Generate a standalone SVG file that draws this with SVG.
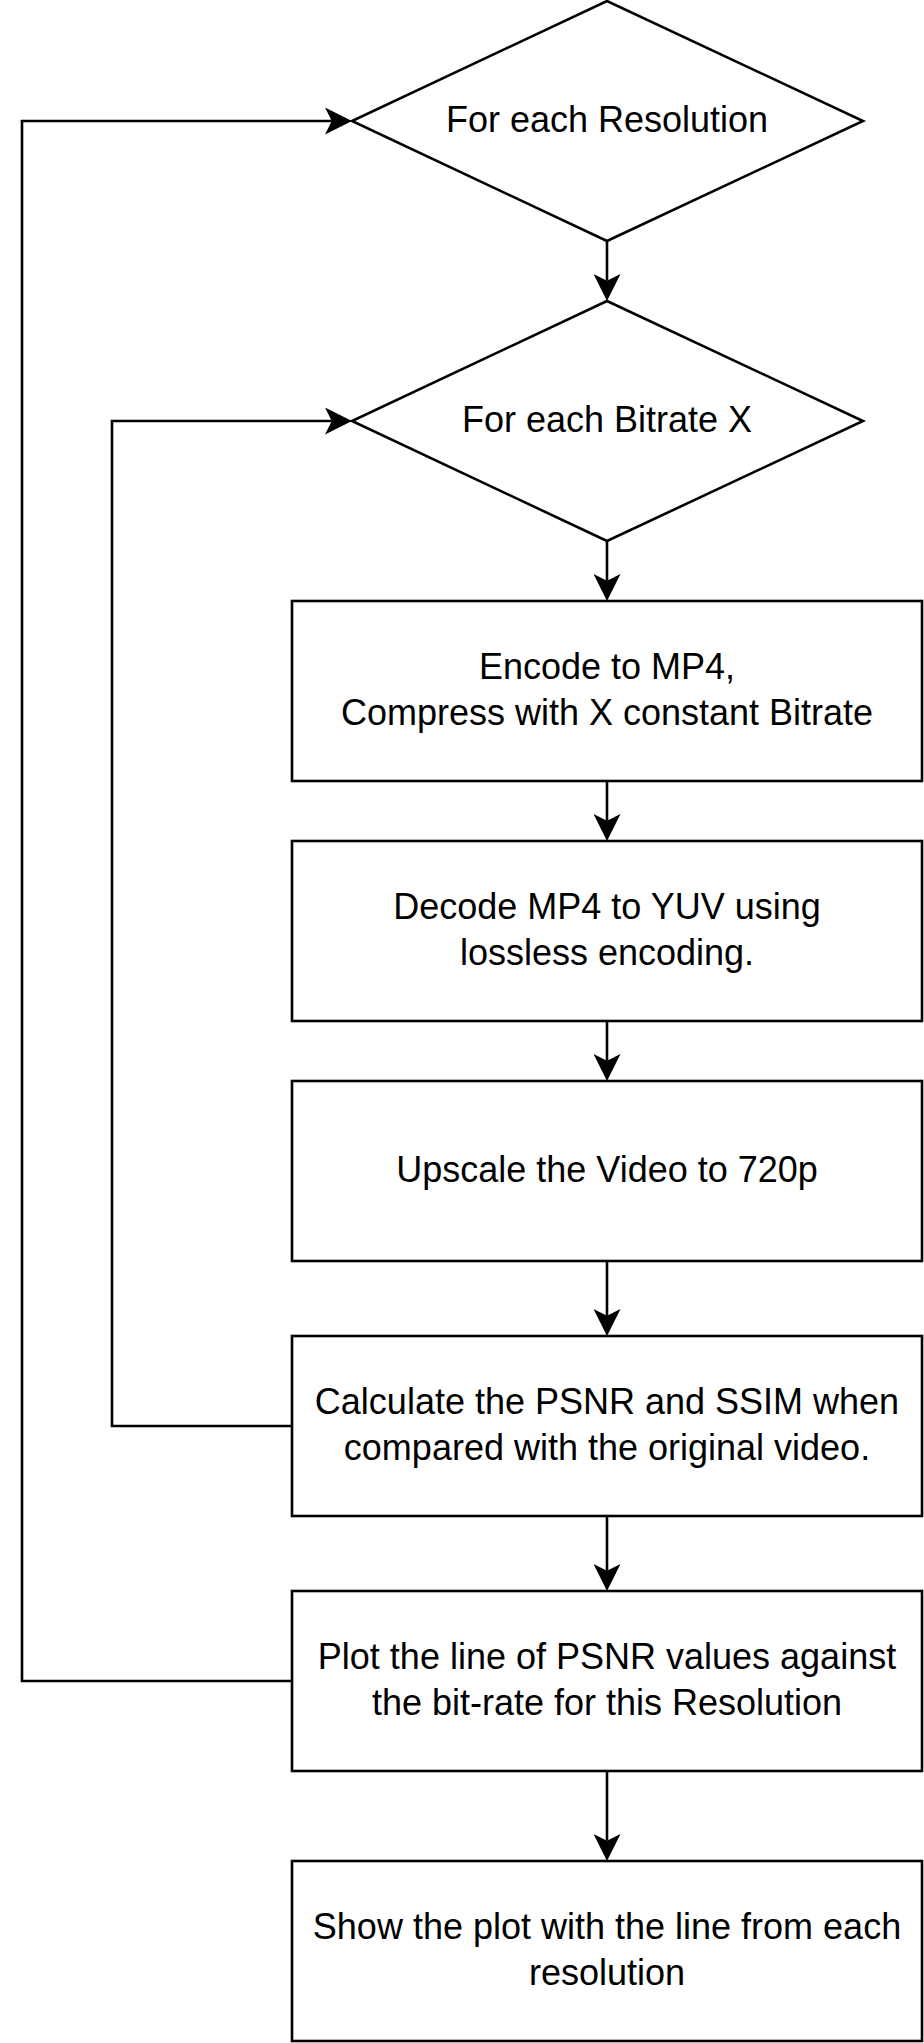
<svg xmlns="http://www.w3.org/2000/svg" width="924" height="2043" viewBox="0 0 924 2043">
<style>
.shape{fill:#ffffff;stroke:#000000;stroke-width:2.6}
.edge{fill:none;stroke:#000000;stroke-width:2.6;marker-end:url(#arrow)}
text{font-family:"Liberation Sans",Arial,sans-serif;font-size:36px;fill:#000000;text-anchor:middle}
</style>
<defs>
<marker id="arrow" markerUnits="userSpaceOnUse" markerWidth="27" markerHeight="27" viewBox="0 0 27 27" refX="6.75" refY="13.5" orient="auto">
<path d="M27,13.5 L0,0 L6.75,13.5 L0,27 Z" fill="#000000"/>
</marker>
</defs>
<rect width="924" height="2043" fill="#ffffff"/>
<g id="connectors">
<path class="edge" d="M607,241 L607,280.75"/>
<path class="edge" d="M607,541 L607,580.75"/>
<path class="edge" d="M607,781 L607,820.75"/>
<path class="edge" d="M607,1021 L607,1060.75"/>
<path class="edge" d="M607,1261 L607,1315.75"/>
<path class="edge" d="M607,1516 L607,1570.75"/>
<path class="edge" d="M607,1771 L607,1840.75"/>
<path class="edge" d="M292,1426 L112,1426 L112,421 L331.75,421"/>
<path class="edge" d="M292,1681 L22,1681 L22,121 L331.75,121"/>
</g>
<g id="resolution">
<path class="shape" d="M607,1 L863,121 L607,241 L352,121 Z"/>
<text x="607" y="132">For each Resolution</text>
</g>
<g id="bitrate">
<path class="shape" d="M607,301 L863,421 L607,541 L352,421 Z"/>
<text x="607" y="432">For each Bitrate X</text>
</g>
<g id="encode">
<rect class="shape" x="292" y="601" width="630" height="180"/>
<text x="607" y="679">Encode to MP4,</text>
<text x="607" y="725">Compress with X constant Bitrate</text>
</g>
<g id="decode">
<rect class="shape" x="292" y="841" width="630" height="180"/>
<text x="607" y="919">Decode MP4 to YUV using</text>
<text x="607" y="965">lossless encoding.</text>
</g>
<g id="upscale">
<rect class="shape" x="292" y="1081" width="630" height="180"/>
<text x="607" y="1182">Upscale the Video to 720p</text>
</g>
<g id="calculate">
<rect class="shape" x="292" y="1336" width="630" height="180"/>
<text x="607" y="1414">Calculate the PSNR and SSIM when</text>
<text x="607" y="1460">compared with the original video.</text>
</g>
<g id="plot">
<rect class="shape" x="292" y="1591" width="630" height="180"/>
<text x="607" y="1669">Plot the line of PSNR values against</text>
<text x="607" y="1715">the bit-rate for this Resolution</text>
</g>
<g id="show">
<rect class="shape" x="292" y="1861" width="630" height="180"/>
<text x="607" y="1939">Show the plot with the line from each</text>
<text x="607" y="1985">resolution</text>
</g>
</svg>
